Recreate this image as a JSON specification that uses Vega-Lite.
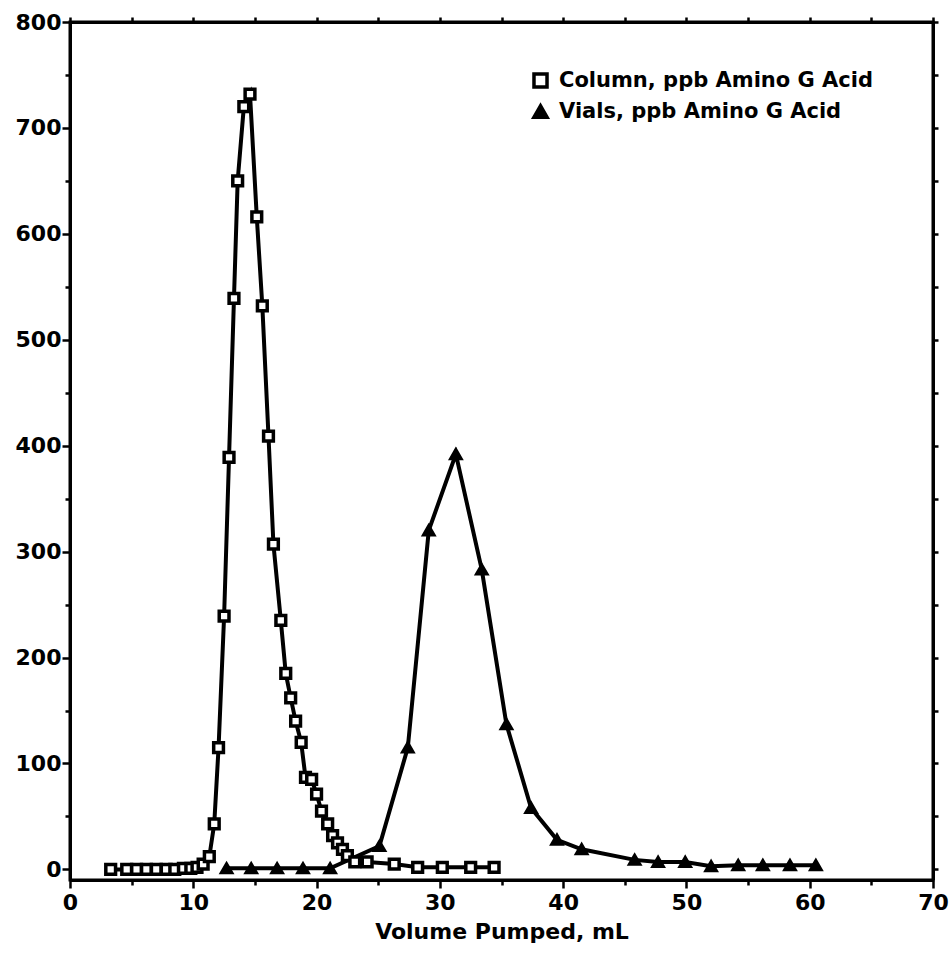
{
  "$schema": "https://vega.github.io/schema/vega-lite/v6.json",
  "width": 863,
  "height": 858,
  "autosize": {"type": "none"},
  "padding": {"left": 70, "top": 22, "right": 16, "bottom": 77},
  "background": "white",
  "config": {
    "view": {"stroke": "black", "strokeWidth": 3},
    "font": "DejaVu Sans",
    "axis": {
      "grid": false,
      "domainColor": "black",
      "domainWidth": 3,
      "tickColor": "black",
      "tickWidth": 2.5,
      "labelColor": "black",
      "labelFontSize": 22,
      "labelFontWeight": "bold",
      "labelFlush": false,
      "labelOverlap": false,
      "titleColor": "black",
      "titleFontSize": 22,
      "titleFontWeight": "bold"
    },
    "legend": {
      "title": null,
      "padding": 0,
      "rowPadding": 3,
      "labelLimit": 600,
      "labelFontSize": 21,
      "labelFontWeight": "bold",
      "labelColor": "black",
      "labelOffset": 8,
      "symbolSize": 170,
      "symbolStrokeWidth": 3.5
    }
  },
  "data": {
    "values": [
      {"series": "Column, ppb Amino G Acid", "v": 3.3, "ppb": 0},
      {"series": "Column, ppb Amino G Acid", "v": 4.6, "ppb": 0},
      {"series": "Column, ppb Amino G Acid", "v": 5.4, "ppb": 0},
      {"series": "Column, ppb Amino G Acid", "v": 6.2, "ppb": 0},
      {"series": "Column, ppb Amino G Acid", "v": 7.0, "ppb": 0},
      {"series": "Column, ppb Amino G Acid", "v": 7.8, "ppb": 0},
      {"series": "Column, ppb Amino G Acid", "v": 8.5, "ppb": 0},
      {"series": "Column, ppb Amino G Acid", "v": 9.2, "ppb": 1},
      {"series": "Column, ppb Amino G Acid", "v": 9.8, "ppb": 1},
      {"series": "Column, ppb Amino G Acid", "v": 10.3, "ppb": 2},
      {"series": "Column, ppb Amino G Acid", "v": 10.8, "ppb": 5},
      {"series": "Column, ppb Amino G Acid", "v": 11.3, "ppb": 12},
      {"series": "Column, ppb Amino G Acid", "v": 11.7, "ppb": 43},
      {"series": "Column, ppb Amino G Acid", "v": 12.05, "ppb": 115},
      {"series": "Column, ppb Amino G Acid", "v": 12.5, "ppb": 239},
      {"series": "Column, ppb Amino G Acid", "v": 12.9, "ppb": 389},
      {"series": "Column, ppb Amino G Acid", "v": 13.3, "ppb": 539},
      {"series": "Column, ppb Amino G Acid", "v": 13.6, "ppb": 650},
      {"series": "Column, ppb Amino G Acid", "v": 14.1, "ppb": 720},
      {"series": "Column, ppb Amino G Acid", "v": 14.6, "ppb": 732},
      {"series": "Column, ppb Amino G Acid", "v": 15.15, "ppb": 616},
      {"series": "Column, ppb Amino G Acid", "v": 15.6, "ppb": 532},
      {"series": "Column, ppb Amino G Acid", "v": 16.1, "ppb": 409},
      {"series": "Column, ppb Amino G Acid", "v": 16.5, "ppb": 307},
      {"series": "Column, ppb Amino G Acid", "v": 17.1, "ppb": 235},
      {"series": "Column, ppb Amino G Acid", "v": 17.5, "ppb": 185},
      {"series": "Column, ppb Amino G Acid", "v": 17.9, "ppb": 162},
      {"series": "Column, ppb Amino G Acid", "v": 18.3, "ppb": 140},
      {"series": "Column, ppb Amino G Acid", "v": 18.75, "ppb": 120},
      {"series": "Column, ppb Amino G Acid", "v": 19.1, "ppb": 87},
      {"series": "Column, ppb Amino G Acid", "v": 19.6, "ppb": 85},
      {"series": "Column, ppb Amino G Acid", "v": 20.0, "ppb": 71},
      {"series": "Column, ppb Amino G Acid", "v": 20.4, "ppb": 55},
      {"series": "Column, ppb Amino G Acid", "v": 20.9, "ppb": 43},
      {"series": "Column, ppb Amino G Acid", "v": 21.3, "ppb": 32},
      {"series": "Column, ppb Amino G Acid", "v": 21.7, "ppb": 25},
      {"series": "Column, ppb Amino G Acid", "v": 22.1, "ppb": 19},
      {"series": "Column, ppb Amino G Acid", "v": 22.5, "ppb": 13},
      {"series": "Column, ppb Amino G Acid", "v": 23.1, "ppb": 7},
      {"series": "Column, ppb Amino G Acid", "v": 24.1, "ppb": 7},
      {"series": "Column, ppb Amino G Acid", "v": 26.3, "ppb": 5},
      {"series": "Column, ppb Amino G Acid", "v": 28.2, "ppb": 2},
      {"series": "Column, ppb Amino G Acid", "v": 30.2, "ppb": 2},
      {"series": "Column, ppb Amino G Acid", "v": 32.5, "ppb": 2},
      {"series": "Column, ppb Amino G Acid", "v": 34.4, "ppb": 2},
      {"series": "Vials, ppb Amino G Acid", "v": 12.7, "ppb": 1},
      {"series": "Vials, ppb Amino G Acid", "v": 14.7, "ppb": 1},
      {"series": "Vials, ppb Amino G Acid", "v": 16.8, "ppb": 1},
      {"series": "Vials, ppb Amino G Acid", "v": 18.9, "ppb": 1},
      {"series": "Vials, ppb Amino G Acid", "v": 21.1, "ppb": 1},
      {"series": "Vials, ppb Amino G Acid", "v": 25.1, "ppb": 22},
      {"series": "Vials, ppb Amino G Acid", "v": 27.4, "ppb": 115},
      {"series": "Vials, ppb Amino G Acid", "v": 29.1, "ppb": 320},
      {"series": "Vials, ppb Amino G Acid", "v": 31.3, "ppb": 392},
      {"series": "Vials, ppb Amino G Acid", "v": 33.4, "ppb": 283},
      {"series": "Vials, ppb Amino G Acid", "v": 35.4, "ppb": 137},
      {"series": "Vials, ppb Amino G Acid", "v": 37.4, "ppb": 58},
      {"series": "Vials, ppb Amino G Acid", "v": 39.5, "ppb": 28},
      {"series": "Vials, ppb Amino G Acid", "v": 41.5, "ppb": 19},
      {"series": "Vials, ppb Amino G Acid", "v": 45.8, "ppb": 9},
      {"series": "Vials, ppb Amino G Acid", "v": 47.7, "ppb": 7},
      {"series": "Vials, ppb Amino G Acid", "v": 49.9, "ppb": 7},
      {"series": "Vials, ppb Amino G Acid", "v": 52.0, "ppb": 3},
      {"series": "Vials, ppb Amino G Acid", "v": 54.2, "ppb": 4},
      {"series": "Vials, ppb Amino G Acid", "v": 56.2, "ppb": 4},
      {"series": "Vials, ppb Amino G Acid", "v": 58.4, "ppb": 4},
      {"series": "Vials, ppb Amino G Acid", "v": 60.5, "ppb": 4}
    ]
  },
  "layer": [
    {
      "mark": {"type": "line", "color": "black", "strokeWidth": 4},
      "encoding": {
        "x": {
          "field": "v", "type": "quantitative",
          "scale": {"domain": [0, 70], "nice": false, "zero": false},
          "axis": {
            "orient": "bottom",
            "values": [0, 5, 10, 15, 20, 25, 30, 35, 40, 45, 50, 55, 60, 65, 70],
            "labelExpr": "datum.value % 10 === 0 ? datum.label : ''",
            "tickSize": {"condition": {"test": "datum.value % 10 === 0", "value": 8}, "value": 5},
            "labelPadding": 4,
            "title": "Volume Pumped, mL",
            "titlePadding": 8
          }
        },
        "y": {
          "field": "ppb", "type": "quantitative",
          "scale": {"domain": [-10, 800], "nice": false, "zero": false},
          "axis": {
            "orient": "left",
            "values": [0, 50, 100, 150, 200, 250, 300, 350, 400, 450, 500, 550, 600, 650, 700, 750, 800],
            "labelExpr": "datum.value % 100 === 0 ? datum.label : ''",
            "tickSize": {"condition": {"test": "datum.value % 100 === 0", "value": 8}, "value": 5},
            "labelPadding": 1,
            "title": null
          }
        },
        "detail": {"field": "series"}
      }
    },
    {
      "mark": {"type": "point", "filled": true, "strokeWidth": 3.5, "opacity": 1, "size": 95},
      "encoding": {
        "x": {
          "field": "v", "type": "quantitative",
          "scale": {"domain": [0, 70], "nice": false, "zero": false},
          "axis": {
            "orient": "top",
            "values": [0, 5, 10, 15, 20, 25, 30, 35, 40, 45, 50, 55, 60, 65, 70],
            "labels": false,
            "tickSize": 5,
            "title": null
          }
        },
        "y": {
          "field": "ppb", "type": "quantitative",
          "scale": {"domain": [-10, 800], "nice": false, "zero": false},
          "axis": {
            "orient": "right",
            "values": [0, 50, 100, 150, 200, 250, 300, 350, 400, 450, 500, 550, 600, 650, 700, 750, 800],
            "labels": false,
            "tickSize": 5,
            "title": null
          }
        },
        "shape": {
          "field": "series", "type": "nominal",
          "scale": {"domain": ["Column, ppb Amino G Acid", "Vials, ppb Amino G Acid"], "range": ["square", "triangle-up"]},
          "legend": {"orient": "none", "legendX": 460, "legendY": 48}
        },
        "fill": {
          "field": "series", "type": "nominal",
          "scale": {"domain": ["Column, ppb Amino G Acid", "Vials, ppb Amino G Acid"], "range": ["white", "black"]},
          "legend": {"orient": "none", "legendX": 460, "legendY": 48}
        },
        "stroke": {
          "field": "series", "type": "nominal",
          "scale": {"domain": ["Column, ppb Amino G Acid", "Vials, ppb Amino G Acid"], "range": ["black", "black"]},
          "legend": {"orient": "none", "legendX": 460, "legendY": 48}
        }
      }
    }
  ],
  "resolve": {"axis": {"x": "independent", "y": "independent"}}
}
